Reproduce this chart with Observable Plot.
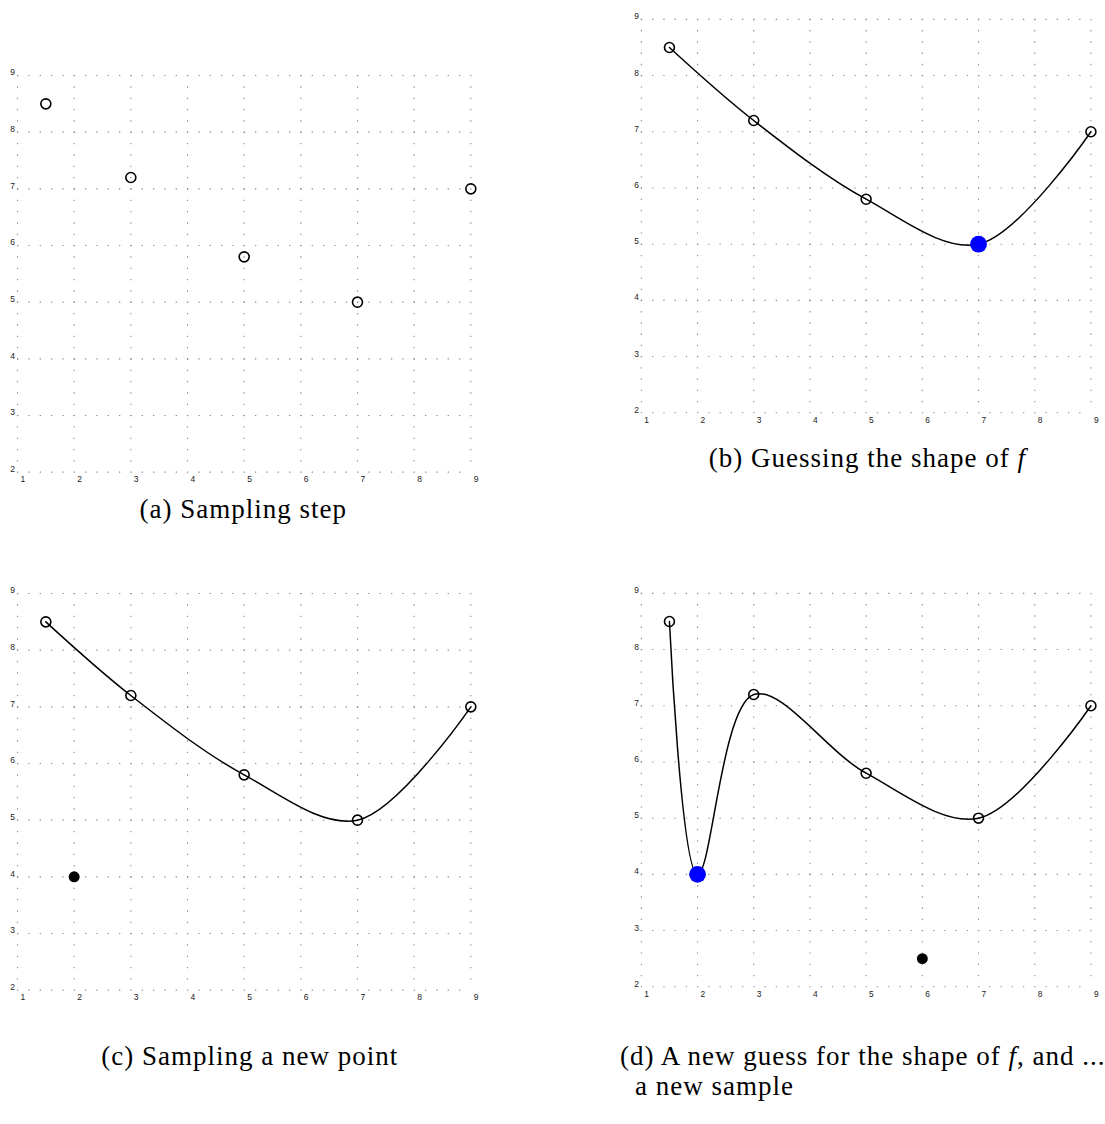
<!DOCTYPE html>
<html>
<head>
<meta charset="utf-8">
<script src="https://cdn.jsdelivr.net/npm/d3@7"></script>
<script src="https://cdn.jsdelivr.net/npm/@observablehq/plot@0.6"></script>
<style>
  html, body { margin: 0; padding: 0; background: #fff; }
  #page { position: relative; width: 1105px; height: 1124px; overflow: hidden; }
  .panel { position: absolute; }
  .cap { position: absolute; font-family: "Liberation Serif", serif; font-size: 27px; letter-spacing: 1px; color: #000; line-height: 30px; white-space: nowrap; }
</style>
</head>
<body>
<div id="page"></div>
<script>
// ---- data ----
const sampleX = [1.5, 3, 5, 7, 9];
const sampleY = [8.5, 7.2, 5.8, 5.0, 7.0];
const xTicks = [1, 2, 3, 4, 5, 6, 7, 8, 9];
const yTicks = [2, 3, 4, 5, 6, 7, 8, 9];
const newSampleCX = [2];
const newSampleCY = [4];
const guessMinBX = [7];
const guessMinBY = [5];
const guessMinDX = [2];
const guessMinDY = [4];
const newSampleDX = [6];
const newSampleDY = [2.5];
const captions = [
  "(a) Sampling step",
  "(b) Guessing the shape of <i>f</i>",
  "(c) Sampling a new point",
  "(d) A new guess for the shape of <i>f</i>, and ...<br><span style='padding-left:15px'>a new sample</span>"
];

const samples = sampleX.map((x, i) => ({x, y: sampleY[i]}));
const pts = (xs, ys) => xs.map((x, i) => ({x, y: ys[i]}));

const UNIT = 56.667;
const mL = 20, mT = 15, mR = 15, mB = 20;
const W = mL + 8 * UNIT + mR;
const H = mT + 7 * UNIT + mB;
const dash = `1.3 ${UNIT / 5 - 1.3}`;

function panel({line = null, filled = [], blue = []}) {
  const marks = [
    Plot.ruleX(xTicks, {stroke: "#8a8a8a", strokeWidth: 1.1, strokeDasharray: dash}),
    Plot.ruleY(yTicks, {stroke: "#8a8a8a", strokeWidth: 1.1, strokeDasharray: dash}),
    Plot.axisX(xTicks, {tickSize: 0, tickPadding: 4, textAnchor: "start", dx: 3, fontSize: 8.5, fill: "#222", label: null, tickFormat: d => String(d)}),
    Plot.axisY(yTicks, {tickSize: 0, tickPadding: 2.5, lineAnchor: "bottom", dy: 0, fontSize: 8.5, fill: "#222", label: null, tickFormat: d => String(d)})
  ];
  if (line) {
    marks.push(Plot.line(line, {x: "x", y: "y", curve: "catmull-rom", stroke: "black", strokeWidth: 1.5}));
  }
  marks.push(Plot.dot(samples, {x: "x", y: "y", r: 5, stroke: "black", strokeWidth: 1.6, fill: "none"}));
  marks.push(Plot.dot(filled, {x: "x", y: "y", r: 5.5, fill: "black"}));
  marks.push(Plot.dot(blue, {x: "x", y: "y", r: 8.5, fill: "#0000ff"}));
  return Plot.plot({
    width: W, height: H,
    marginLeft: mL, marginTop: mT, marginRight: mR, marginBottom: mB,
    x: {domain: [1, 9], label: null},
    y: {domain: [2, 9], label: null},
    style: {fontFamily: "'Liberation Sans', Arial, sans-serif", background: "transparent", overflow: "visible", color: "#222"},
    marks
  });
}

const page = document.getElementById("page");
function place(el, left, top) {
  const d = document.createElement("div");
  d.className = "panel";
  d.style.left = left + "px";
  d.style.top = top + "px";
  d.appendChild(el);
  page.appendChild(d);
}

const lineBC = samples;
const lineD = [...samples.slice(0, 1), ...pts(guessMinDX, guessMinDY), ...samples.slice(1)];

place(panel({}), 16.7 - mL, 75 - mT);
place(panel({line: lineBC, blue: pts(guessMinBX, guessMinBY)}), 640.7 - mL, 19 - mT);
place(panel({line: lineBC, filled: pts(newSampleCX, newSampleCY)}), 16.7 - mL, 593.3 - mT);
place(panel({line: lineD, blue: pts(guessMinDX, guessMinDY), filled: pts(newSampleDX, newSampleDY)}), 640.7 - mL, 593.3 - mT);

function caption(html, left, top, width, align) {
  const d = document.createElement("div");
  d.className = "cap";
  d.style.left = left + "px";
  d.style.top = top + "px";
  if (width) { d.style.width = width + "px"; d.style.textAlign = align; }
  d.innerHTML = html;
  page.appendChild(d);
}
caption(captions[0], 16.7, 494, 453.3, "center");
caption(captions[1], 640.7, 443, 453.3, "center");
caption(captions[2], 16.7, 1041, 466, "center");
caption(captions[3], 620, 1041, null, "left");
</script>
</body>
</html>
